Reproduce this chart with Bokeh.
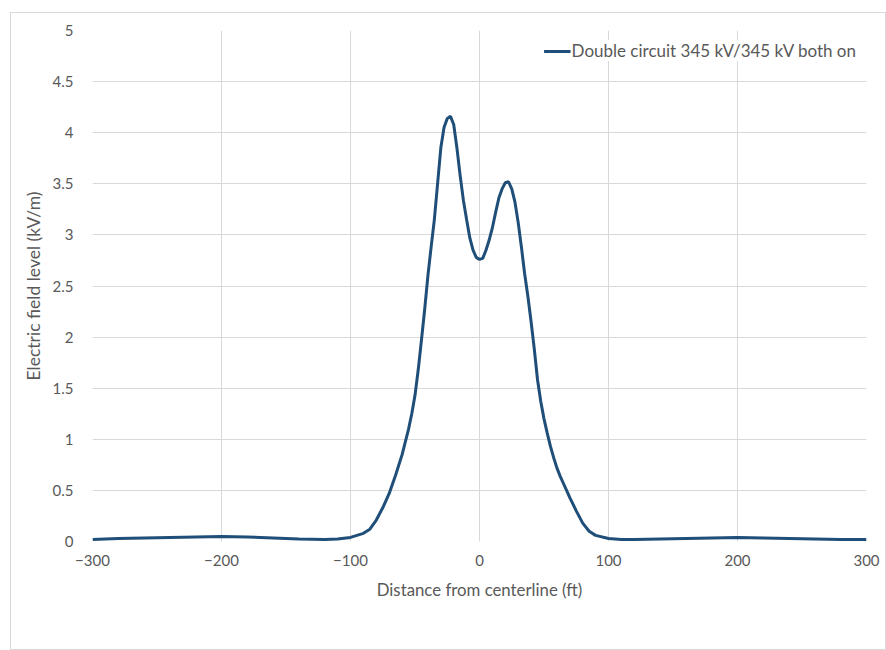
from bokeh.plotting import figure
from bokeh.models import Legend, LegendItem, FixedTicker
from bokeh.embed import file_html
from bokeh.resources import INLINE

# Data
distance_ft = [-300, -280, -260, -240, -220, -200, -180, -160, -140, -120, -110, -100,
               -90, -85, -80, -75, -70, -65, -60, -55, -52.5, -50, -47.5, -45, -42.5,
               -40, -37.5, -35, -32.5, -30, -27.5, -25, -22.5, -20, -17.5, -15, -12.5,
               -10, -7.5, -5, -2.5, 0, 2.5, 5, 7.5, 10, 12.5, 15, 17.5, 20, 22.5,
               25, 27.5, 30, 32.5, 35, 37.5, 40, 42.5, 45, 47.5, 50, 52.5,
               55, 57.5, 60, 62.5, 65, 67.5, 70, 75, 80, 85, 90, 100, 110, 120, 140, 160, 180, 200,
               220, 240, 260, 280, 300]
field_kv_m = [0.02, 0.03, 0.035, 0.04, 0.045, 0.05, 0.045, 0.035, 0.025, 0.02, 0.025, 0.04,
              0.08, 0.12, 0.21, 0.33, 0.47, 0.65, 0.85, 1.1, 1.25, 1.43, 1.68, 1.97, 2.27,
              2.6, 2.88, 3.15, 3.5, 3.85, 4.05, 4.14, 4.16, 4.08, 3.85, 3.58, 3.34,
              3.15, 2.97, 2.85, 2.78, 2.76, 2.77, 2.85, 2.95, 3.07, 3.22, 3.36, 3.45, 3.51, 3.52,
              3.45, 3.32, 3.12, 2.88, 2.62, 2.4, 2.15, 1.88, 1.58, 1.37, 1.2, 1.06,
              0.93, 0.82, 0.72, 0.64, 0.57, 0.5, 0.43, 0.3, 0.18, 0.1, 0.06, 0.03, 0.02, 0.02, 0.025, 0.03, 0.035, 0.04,
              0.035, 0.03, 0.025, 0.02, 0.02]
series_name = "Double circuit 345 kV/345 kV both on"

x_ticks = [-300, -200, -100, 0, 100, 200, 300]
y_ticks = [0, 0.5, 1, 1.5, 2, 2.5, 3, 3.5, 4, 4.5, 5]
y_tick_labels = ["0", "0.5", "1", "1.5", "2", "2.5", "3", "3.5", "4", "4.5", "5"]

FONT = "Lato"
TXT = "#595959"
GRID = "#D9D9D9"

p = figure(width=None, height=None, frame_width=774, frame_height=511,
           output_backend="svg", toolbar_location=None,
           x_range=(-300, 300), y_range=(0, 5),
           min_border_left=81, min_border_right=19, min_border_top=17, min_border_bottom=108)
p.styles = {"border": "1px solid #D9D9D9", "margin-left": "10px", "margin-top": "12px"}
p.outline_line_color = None
p.background_fill_color = "white"
p.border_fill_color = "white"

r = p.line(distance_ft, field_kv_m, line_color="#1F4E79", line_width=3)

for ax in (p.xaxis[0], p.yaxis[0]):
    ax.axis_line_color = None
    ax.major_tick_line_color = None
    ax.minor_tick_line_color = None
    ax.major_tick_out = 0
    ax.major_tick_in = 0
    ax.major_label_text_font = FONT
    ax.major_label_text_font_size = "15px"
    ax.major_label_text_color = TXT
    ax.axis_label_text_font = FONT
    ax.axis_label_text_font_style = "normal"
    ax.axis_label_text_color = TXT

p.xaxis.axis_label_text_font_size = "16.8px"
p.yaxis.axis_label_text_font_size = "17.5px"
p.xaxis.ticker = FixedTicker(ticks=x_ticks)
p.yaxis.ticker = FixedTicker(ticks=y_ticks)
p.yaxis.major_label_overrides = {float(t): l for t, l in zip(y_ticks, y_tick_labels)}
p.xaxis.axis_label = "Distance from centerline (ft)"
p.yaxis.axis_label = "Electric field level (kV/m)"
p.xaxis.major_label_standoff = 13
p.xaxis.axis_label_standoff = 10
p.yaxis.major_label_standoff = 19
p.yaxis.axis_label_standoff = 6

p.xgrid.ticker = FixedTicker(ticks=x_ticks)
p.ygrid.ticker = FixedTicker(ticks=y_ticks)
p.grid.grid_line_color = GRID
p.grid.grid_line_width = 1

legend = Legend(items=[LegendItem(label=series_name, renderers=[r])],
                location="top_right", orientation="horizontal",
                label_text_font=FONT, label_text_font_size="17px", label_text_color=TXT,
                glyph_width=27, glyph_height=20, label_standoff=1, padding=4, margin=10,
                border_line_color=None, background_fill_color="white", background_fill_alpha=1)
p.add_layout(legend, "center")

open("out.html", "w").write(file_html(p, INLINE))
